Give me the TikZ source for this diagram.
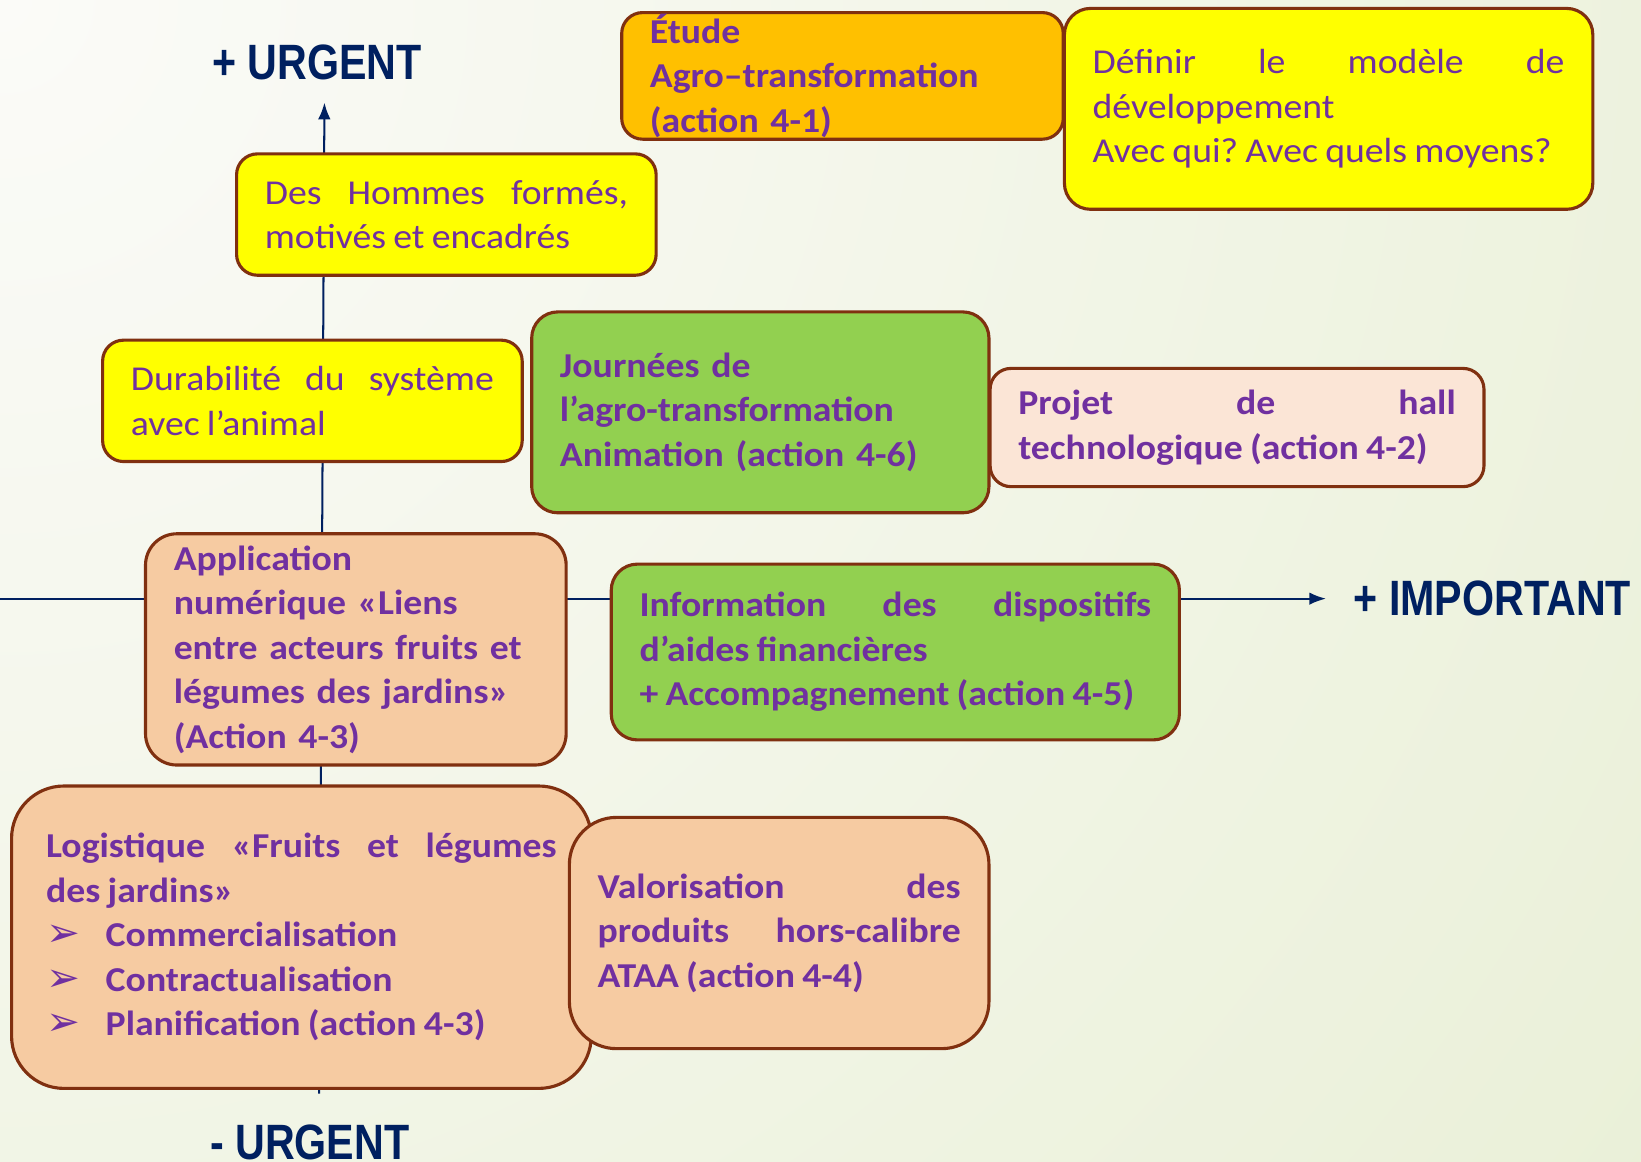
\documentclass[tikz,border=0pt]{standalone}
\usepackage{fontspec}
\setmainfont{Carlito}[FakeStretch=1.08,WordSpace=0.85]
\newfontfamily\axisfont{Liberation Sans}
\newfontfamily\dingfont{DejaVu Sans}
\usetikzlibrary{arrows.meta}
\frenchspacing

\definecolor{brd}{RGB}{128,48,16}
\definecolor{txt}{RGB}{112,48,160}
\definecolor{navy}{RGB}{0,32,96}
\definecolor{yel}{RGB}{255,255,0}
\definecolor{org}{RGB}{255,192,0}
\definecolor{grn}{RGB}{146,208,80}
\definecolor{pch}{RGB}{246,203,162}
\definecolor{lpch}{RGB}{251,229,214}
\definecolor{bgA}{RGB}{251,251,248}
\definecolor{bgB}{RGB}{221,232,192}

\newcommand{\puce}{\makebox[1.14cm][l]{\dingfont\fontsize{22}{24}\selectfont ➢}}

\begin{document}
\begin{tikzpicture}[x=0.02cm,y=-0.02cm,
	box/.style={draw=brd,line width=1.7pt,rounded corners=0.4cm,inner xsep=0.54cm,inner ysep=0pt,text=txt,font=\fontsize{19}{24.2}\selectfont},
	bbox/.style={box,font=\fontsize{19}{24.2}\selectfont\bfseries},
	axe/.style={text=navy,font=\axisfont\bfseries\fontsize{27}{30}\selectfont}]
\useasboundingbox (0,0) rectangle (1568,1110);
\begin{scope}
\clip (0,0) rectangle (1568,1110);
\shade[inner color=bgA,outer color=bgB] (0,0) circle (68cm);
\end{scope}
% axes
\coordinate (vbot) at (305,1045);
\coordinate (vtop) at (310,98);
\coordinate (hleft) at (0,572);
\coordinate (hright) at (1267,572);
\draw [->,>={Latex[length=0.32cm,width=0.24cm]},navy,line width=1.1pt](vbot)--(vtop);
\draw [->,>={Latex[length=0.32cm,width=0.24cm]},navy,line width=1.1pt](hleft)--(hright);
\node[axe] (urgplus) at (303,60) {\scalebox{0.83}[1]{+ URGENT}};
\node[axe] (imp) at (1426,572) {\scalebox{0.83}[1]{+ IMPORTANT}};
\node[axe] (urgmoins) at (296,1092) {\scalebox{0.83}[1]{- URGENT}};
% boxes
\node[bbox,fill=org,text width=7.36cm,minimum height=2.42cm,align=left] (etude) at (805,72.5) {Étude\\ Agro–transformation\\ (action 4-1)};
\node[box,fill=yel,text width=9.02cm,minimum height=3.84cm,align=justify,rounded corners=0.5cm] (definir) at (1269.5,104) {Définir le modèle de\linebreak développement\newline Avec qui? Avec quels moyens?};
\node[box,fill=yel,text width=6.94cm,minimum height=2.32cm,align=justify] (hommes) at (426.5,205) {Des Hommes formés,\linebreak motivés et encadrés};
\node[box,fill=yel,text width=6.94cm,minimum height=2.32cm,align=justify] (durab) at (298.5,383) {Durabilité du système\linebreak avec l’animal};
\node[bbox,fill=grn,text width=7.66cm,minimum height=3.84cm,align=left,rounded corners=0.5cm] (journees) at (726.5,394) {Journées de\\ l’agro-transformation\\ Animation (action 4-6)};
\node[bbox,fill=lpch,text width=8.36cm,minimum height=2.26cm,align=justify] (projet) at (1182,408.5) {Projet de hall\linebreak technologique (action 4-2)};
\node[bbox,fill=pch,text width=6.96cm,minimum height=4.42cm,align=left,rounded corners=0.6cm] (appli) at (340,620.5) {Application\\ numérique «Liens\\ entre acteurs fruits et\\ légumes des jardins»\\ (Action 4-3)};
\node[bbox,fill=grn,text width=9.78cm,minimum height=3.36cm,align=justify,rounded corners=0.5cm] (info) at (855.5,623) {Information des dispositifs\linebreak d’aides financières\newline + Accompagnement (action 4-5)};
\node[bbox,fill=pch,inner xsep=0.66cm,text width=9.76cm,minimum height=5.78cm,align=justify,rounded corners=1cm] (logist) at (288,895.5) {Logistique «Fruits et légumes\linebreak des jardins»\newline \puce Commercialisation\newline \puce Contractualisation\newline \puce Planification (action 4-3)};
\node[bbox,fill=pch,text width=6.94cm,minimum height=4.42cm,align=justify,rounded corners=0.9cm] (valor) at (744.5,891.5) {Valorisation des\linebreak produits hors-calibre\linebreak ATAA (action 4-4)};
\end{tikzpicture}
\end{document}
